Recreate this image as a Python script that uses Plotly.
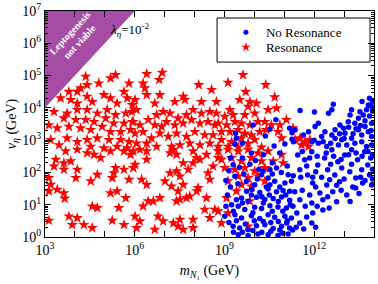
import plotly.graph_objects as go

# ---------------- data (log10 exponents) ----------------
# Resonance points: (log10 m_N1 [GeV], log10 v_eta [GeV])
red_points = [
    (4.36,4.97),(4.41,4.71),(4.19,4.61),(4.80,4.76),(5.19,4.92),(5.36,5.02),(5.81,4.76),(5.64,4.50),(3.80,4.50),(4.08,4.50),
    (3.52,4.30),(3.86,4.25),(4.08,4.14),(4.41,4.35),(4.58,4.19),(4.97,4.40),(5.19,4.30),(5.41,4.14),(5.75,4.30),(5.92,4.09),
    (3.30,3.88),(3.74,3.83),(4.08,3.94),(4.41,3.94),(4.75,3.83),(5.08,3.94),(5.36,3.78),(5.70,3.83),(3.63,3.68),(4.03,3.63),
    (4.36,3.63),(4.64,3.57),(5.03,3.68),(5.30,3.52),(5.64,3.52),(5.92,3.57),(3.13,3.47),(3.41,3.37),(3.80,3.42),(4.19,3.37),
    (4.53,3.32),(4.91,3.42),(5.19,3.26),(5.53,3.26),(5.86,3.32),(3.19,3.01),(3.74,3.06),(4.08,2.95),(4.41,3.01),(4.75,3.06),
    (5.14,3.01),(5.53,3.01),(5.81,2.95),(3.47,2.85),(4.53,2.80),(4.97,2.75),(5.41,2.80),(5.75,2.75),
    (3.69,2.66),(4.08,2.71),(4.41,2.60),(4.64,2.55),(4.86,2.45),(5.19,2.66),(5.64,2.66),(5.86,2.55),(3.36,2.40),(3.63,2.29),
    (3.86,2.35),(3.30,2.19),(3.63,2.09),(4.08,2.09),(4.75,1.93),(5.36,2.14),(5.64,2.09),(5.30,1.98),(5.81,1.78),(4.03,1.83),
    (4.53,1.73),(5.25,1.83),(3.13,1.83),(3.19,1.62),(3.13,1.42),(3.41,1.47),(3.63,1.36),(3.66,1.19),(5.19,1.36),(5.41,1.42),
    (5.70,1.21),(4.58,0.95),(4.75,0.90),(5.47,0.90),(3.13,0.51),(3.80,0.64),(4.08,0.59),(3.91,0.38),(4.30,0.38),(4.58,0.28),
    (5.25,0.51),(5.64,0.38),
    (6.40,5.05),(6.92,5.09),(6.82,4.87),(6.28,4.76),(6.34,4.61),(6.40,4.40),(6.01,4.25),(6.67,4.14),(6.84,4.40),(7.62,4.35),
    (7.34,4.19),(7.68,4.25),(8.14,4.71),(8.57,4.56),(8.23,4.19),(8.73,4.19),(5.90,3.88),(6.06,3.94),(6.45,3.63),(6.73,3.78),
    (6.95,3.88),(7.18,3.83),(7.45,3.68),(7.73,3.78),(7.95,3.94),(8.23,3.83),(8.51,3.88),(8.73,3.83),(5.95,3.57),(6.17,3.47),
    (6.67,3.47),(6.90,3.42),(7.06,3.57),(7.34,3.47),(7.62,3.52),(7.90,3.63),(8.18,3.52),(8.45,3.57),(8.68,3.47),(6.01,3.21),
    (6.28,3.26),(6.56,3.06),(6.84,3.21),(7.12,3.11),(7.40,3.21),(7.73,3.11),(8.01,3.26),(8.34,3.16),(8.62,3.16),(6.06,2.90),
    (6.40,2.90),(6.73,2.80),(7.23,2.80),(7.51,2.85),(7.84,2.90),(8.18,2.85),(8.51,2.90),(8.79,2.80),
    (5.95,2.66),(6.17,2.71),(6.40,2.66),(6.40,2.40),(6.01,2.24),(5.95,2.14),(7.18,2.60),(7.40,2.55),(7.29,2.71),(7.95,2.66),
    (8.07,2.45),(8.40,2.55),(7.62,2.29),(7.95,2.29),(8.18,2.40),(8.62,2.19),(8.45,1.98),(8.51,1.78),(8.79,2.45),(6.23,1.78),
    (6.40,1.62),(7.01,1.73),(7.18,1.98),(7.40,2.04),(7.51,1.88),(7.23,1.57),(7.62,1.62),(7.79,2.09),(8.12,1.52),(8.07,1.42),
    (7.45,1.42),(7.51,1.16),(7.73,1.21),(7.84,1.26),(7.40,1.11),(8.40,1.21),(6.84,1.21),(6.62,1.11),(6.45,1.11),(6.28,0.95),
    (6.01,0.64),(6.17,0.49),(6.06,0.28),(6.78,0.64),(6.95,0.49),(7.29,0.43),(7.51,0.54),(7.45,0.33),(7.62,0.23),(7.95,0.54),
    (7.95,0.28),(8.34,0.85),(8.51,0.59),(6.67,0.23),
    (9.62,5.02),(9.12,4.78),(10.38,4.71),(9.71,4.50),(10.68,4.33),(9.51,4.25),(9.85,4.19),(10.07,4.14),(9.18,3.94),(9.79,4.04),
    (10.01,3.83),(10.46,3.94),(10.74,3.99),(9.01,3.73),(9.29,3.78),(9.68,3.78),(11.07,3.63),(8.79,3.52),(9.07,3.47),(9.35,3.57),
    (9.57,3.52),(9.85,3.47),(10.12,3.57),(10.35,3.57),(10.57,3.47),(10.85,3.47),(8.90,3.26),(9.18,3.26),(9.46,3.32),(9.68,3.21),
    (9.90,3.16),(10.18,3.26),(10.40,3.32),(8.90,3.01),(9.24,2.95),(9.57,3.06),(9.79,2.90),(10.01,3.01),(10.79,3.26),(10.91,3.06),
    (9.12,2.80),(9.46,2.78),(10.24,2.78),(11.29,3.37),
    (8.79,2.66),(9.12,2.71),(9.46,2.66),(9.79,2.71),(10.12,2.60),(10.46,2.66),(10.91,2.55),(8.90,2.40),(9.24,2.45),(9.57,2.35),
    (9.90,2.45),(10.24,2.35),(10.63,2.35),(10.96,2.29),(9.01,2.14),(9.35,2.09),(9.68,2.14),(10.01,2.04),(10.35,2.14),(9.46,1.88),
    (9.79,1.83),(10.12,1.88),(9.12,1.73),(9.57,1.62),(9.90,1.57),(10.35,1.73),(9.07,1.21),(8.79,0.80),(8.90,0.43),(9.12,0.74),
    (9.85,1.11),(9.79,0.33),(9.40,1.42),(8.68,0.85),
    (11.36,3.01),(11.53,3.06),(11.69,2.95),(11.86,3.01),(11.58,2.85),(11.81,2.80),
]

# No-resonance points: (log10 m_N1 [GeV], log10 v_eta [GeV])
blue_points = [
    (9.96,3.47),(10.72,3.63),(10.52,3.34),(11.18,3.37),(11.26,3.23),(9.37,3.21),(9.40,3.06),(10.37,3.13),(11.26,3.03),(9.35,2.88),
    (9.60,2.90),(10.66,2.82),(11.02,2.88),
    (9.29,2.24),(10.04,2.37),(10.29,2.04),(10.52,2.09),(10.74,2.14),(9.35,1.88),(9.74,1.73),(10.01,1.62),(10.46,1.83),(10.68,1.73),
    (11.02,1.67),(11.24,1.73),(9.74,1.42),(9.92,1.47),(10.18,1.38),(10.46,1.49),(10.74,1.40),(10.96,1.44),(11.18,1.42),(9.57,1.21),
    (9.79,1.11),(10.07,1.23),(10.35,1.16),(10.63,1.19),(10.91,1.24),(11.18,1.14),(9.24,1.00),(9.46,0.95),(9.68,0.85),(10.01,0.92),
    (10.24,0.88),(10.52,0.97),(10.79,0.93),(11.07,0.90),(11.29,0.95),(9.01,0.64),(9.35,0.69),(9.57,0.59),(9.90,0.66),(10.18,0.57),
    (10.46,0.69),(10.68,0.61),(11.02,0.64),(11.24,0.59),(9.29,0.33),(9.51,0.28),(9.79,0.23),(10.07,0.35),(10.35,0.38),(10.63,0.26),
    (10.91,0.33),(11.18,0.28),(9.46,0.07),(9.79,0.05),(10.12,0.09),(10.46,0.07),(10.79,0.05),(11.13,0.09),(10.24,1.93),(10.52,1.62),
    (11.13,1.93),
    (12.64,4.11),(12.48,3.83),(12.59,3.94),(11.53,3.92),(12.01,3.87),(12.14,3.52),(12.03,3.42),(11.81,3.26),(11.36,3.32),(11.64,3.16),
    (12.36,3.26),(12.25,3.11),(12.59,3.16),(12.70,3.32),(12.86,3.47),(12.98,3.37),(13.03,3.21),(13.14,3.57),(13.20,3.78),(13.25,3.94),
    (13.36,3.52),(13.48,3.68),(13.53,3.88),(13.64,3.78),(13.75,3.94),(13.81,4.09),(13.92,4.04),(13.48,3.32),(13.59,3.16),(13.70,3.42),
    (13.81,3.26),(13.92,3.52),(13.92,3.11),(13.25,3.06),(12.92,3.01),(12.81,2.85),(13.09,2.85),(13.36,2.90),(13.59,2.95),(13.75,2.80),
    (13.92,2.85),(12.42,2.80),(11.31,2.95),(12.14,2.90),(11.92,2.95),
    (11.95,1.67),(12.42,1.61),(12.85,1.71),(13.29,1.55),(13.62,1.67),(13.92,1.61),(12.19,1.36),(12.62,1.40),(13.09,1.30),(11.52,1.15),
    (11.92,1.05),(12.29,1.15),(12.75,1.09),(11.95,0.74),(12.29,0.84),(11.42,0.74),(11.75,0.62),(11.08,0.43),(11.52,0.43),(11.92,0.43),
    (10.85,0.22),(11.28,0.22),(11.45,2.54),(11.68,2.39),(11.92,2.64),(12.12,2.23),(12.35,2.45),(12.59,2.70),(12.79,2.33),(13.02,2.54),
    (13.25,2.70),(13.45,2.39),(13.69,2.64),(13.89,2.45),(11.52,2.08),(11.78,1.92),(12.05,2.02),(12.45,2.08),(12.69,1.92),(12.92,2.14),
    (13.19,2.02),(13.39,1.83),(13.59,2.08),(13.85,1.92),(13.79,2.23),(13.39,1.52),(12.52,1.77),
    (9.15,2.05),(9.50,2.15),(9.85,2.25),(10.15,2.10),(10.60,2.30),(10.90,2.00),(11.10,2.20),(9.20,1.55),(9.45,1.65),(9.65,1.95),
    (10.10,1.80),(10.40,1.55),(10.60,1.95),(10.85,1.55),(11.30,1.90),(9.10,1.30),(9.40,1.15),(9.90,1.30),(10.25,1.25),(10.50,1.30),
    (10.80,1.10),(11.05,1.30),(11.35,1.40),(9.05,0.95),(9.30,0.80),(9.60,1.05),(9.95,0.75),(10.30,1.05),(10.60,0.80),(10.95,0.80),
    (11.20,1.00),(9.15,0.45),(9.40,0.50),(9.70,0.40),(10.00,0.50),(10.30,0.48),(10.55,0.45),(10.80,0.48),(11.10,0.50),(11.40,0.30),
    (9.60,0.15),(9.95,0.20),(10.25,0.15),(10.55,0.18),(10.95,0.12),(9.30,0.15),(9.05,1.75),(9.20,2.45),(9.60,2.45),(10.30,2.55),
    (10.85,2.60),(9.90,2.60),
    (12.00,3.00),(12.30,2.95),(12.55,2.90),(12.70,3.05),(13.00,3.05),(13.30,3.20),(13.55,3.45),(13.70,3.60),(13.85,3.75),(13.95,3.90),
    (13.40,3.35),(13.15,3.40),(12.85,3.20),(13.60,4.20),(13.85,4.30),(13.95,4.20),(13.90,3.30),(11.60,2.65),(11.85,2.45),(12.10,2.50),
    (12.40,2.60),(12.65,2.50),(12.90,2.40),(13.15,2.55),(13.40,2.60),(13.60,2.50),(13.80,2.65),(13.95,2.55),(11.55,1.85),(11.75,2.20),
    (11.95,1.85),(12.25,1.85),(12.55,2.25),(12.75,1.60),(13.00,1.80),(13.25,2.25),(13.55,1.85),(13.70,1.75),(13.95,2.10),(13.95,1.80),
    (11.60,1.45),(11.85,1.30),(12.05,1.55),(12.45,1.25),(12.90,1.45),(13.20,1.10),(13.50,1.35),(11.70,0.95),(12.10,0.95),(12.50,0.90),
    (11.65,0.25),(12.05,0.30),
]

# Excluded region ("Leptogenesis not viable") corners, GeV
excl_m = [1e3, 1e3, 1e6]
excl_v = [1e4, 1e7, 1e7]

x_tick_exps = list(range(3, 15))
x_label_exps = [3, 6, 9, 12]
y_tick_exps = list(range(0, 8))

red_m = [10 ** p[0] for p in red_points]
red_v = [10 ** p[1] for p in red_points]
blue_m = [10 ** p[0] for p in blue_points]
blue_v = [10 ** p[1] for p in blue_points]

SERIF = "Liberation Serif, Times New Roman, serif"
RED = "#ff0000"
BLUE = "#0000ff"

fig = go.Figure()
fig.add_trace(go.Scatter(x=excl_m, y=excl_v, mode="lines", fill="toself",
                         fillcolor="#a64ca6", line=dict(width=0, color="#a64ca6"),
                         showlegend=False, hoverinfo="skip"))
fig.add_trace(go.Scatter(x=red_m, y=red_v, mode="markers", name="Resonance", showlegend=False,
                         marker=dict(symbol="star", size=8.5, color=RED, line=dict(width=0))))
fig.add_trace(go.Scatter(x=blue_m, y=blue_v, mode="markers", name="No Resonance", showlegend=False,
                         marker=dict(symbol="circle", size=5.5, color=BLUE, line=dict(width=0))))
# legend entries (small symbols as in the reference key), one legend per row
fig.add_trace(go.Scatter(x=[None], y=[None], mode="markers", name="No Resonance", legend="legend",
                         marker=dict(symbol="circle", size=5, color=BLUE)))
fig.add_trace(go.Scatter(x=[None], y=[None], mode="markers", name="Resonance", legend="legend2",
                         marker=dict(symbol="star", size=7, color=RED)))

x_tickvals = [10 ** e for e in x_tick_exps]
x_ticktext = [f"10<sup>{e}</sup>" if e in x_label_exps else "" for e in x_tick_exps]
y_tickvals = [10 ** e for e in y_tick_exps]
y_ticktext = [f"10<sup>{e}</sup>" for e in y_tick_exps]
y_minor = [k * 10 ** e for e in y_tick_exps[:-1] for k in range(2, 10)]

axis_common = dict(type="log", showline=True, linecolor="black", linewidth=1, mirror="allticks",
                   ticks="inside", tickcolor="black", showgrid=False, zeroline=False,
                   tickfont=dict(family=SERIF, size=14, color="black"), automargin=False)

fig.update_xaxes(range=[3, 14], tickvals=x_tickvals, ticktext=x_ticktext, ticklen=6,
                 title=dict(text="<i>m</i><sub><i>N</i>\u2081</sub> (GeV)", standoff=8,
                            font=dict(family=SERIF, size=14, color="black")),
                 **axis_common)
fig.update_yaxes(range=[0, 7], tickvals=y_tickvals, ticktext=y_ticktext, ticklen=6,
                 minor=dict(tickvals=y_minor, ticks="inside", ticklen=3, tickcolor="black", showgrid=False),
                 title=dict(text="<i>v</i><sub><i>\u03b7</i></sub> (GeV)", standoff=2,
                            font=dict(family=SERIF, size=14, color="black")),
                 **axis_common)

# legend frame
fig.add_shape(type="rect", xref="paper", yref="paper", x0=0.523, x1=0.988, y0=0.774, y1=0.969,
              line=dict(color="black", width=1), fillcolor="white", layer="below")

fig.add_annotation(text="<i>\u03bb</i><sub><i>\u03b7</i></sub>=10<sup>-2</sup>", xref="paper", yref="paper",
                   x=0.19, y=0.916, xanchor="left", yanchor="middle", showarrow=False,
                   font=dict(family=SERIF, size=13, color="black"))
fig.add_annotation(text="<b>Leptogenesis<br>not viable</b>", xref="paper", yref="paper",
                   x=0.091, y=0.885, xanchor="center", yanchor="middle", showarrow=False, textangle=-47,
                   font=dict(family=SERIF, size=10, color="white"))

legend_style = dict(xanchor="left", yanchor="top", bgcolor="rgba(0,0,0,0)", borderwidth=0,
                    font=dict(family=SERIF, size=13, color="black"))
fig.update_layout(
    width=378, height=284,
    margin=dict(l=45, r=4, t=11, b=47),
    plot_bgcolor="white", paper_bgcolor="white",
    showlegend=True,
    legend=dict(x=0.55, y=0.972, **legend_style),
    legend2=dict(x=0.55, y=0.906, **legend_style),
)

fig.write_html("out.html", config={"displayModeBar": False},
               post_script="document.body.style.margin='0';")
